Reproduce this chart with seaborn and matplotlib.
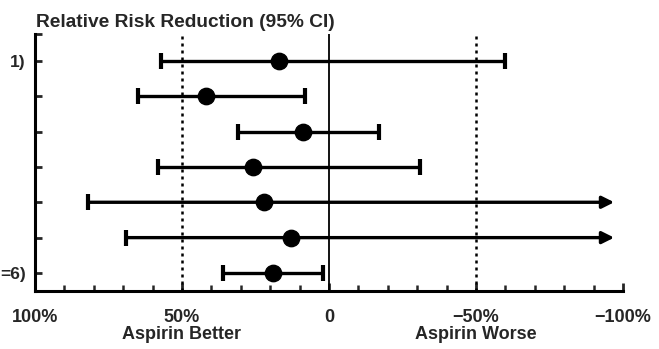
#!/usr/bin/env python3

import numpy as np
import pandas as pd
import matplotlib
matplotlib.use("Agg")
import matplotlib.pyplot as plt
import seaborn as sns

# Forest plot data: relative risk reduction (%), positive = aspirin better
row_labels = ["1)", "", "", "", "", "", "=6)"]
point = [17, 42, 9, 26, 22, 13, 19]
lower = [57, 65, 31, 58, 82, 69, 36]
# nan means the interval runs off the right edge (drawn as an arrow)
upper = [-60, 8, -17, -31, np.nan, np.nan, 2]

xticks = [100, 50, 0, -50, -100]
xticklabels = ["100%", "50%\nAspirin Better", "0",
               "\u221250%\nAspirin Worse", "\u2212100%"]
ref_lines = [50, -50]

sns.set_theme(style="ticks")
plt.rcParams["font.family"] = ["Liberation Sans", "DejaVu Sans"]
plt.rcParams["font.weight"] = "bold"


def main():
    df = pd.DataFrame({
        "row": np.arange(len(point)),
        "point": point,
        "lower": lower,
        "upper": upper,
    })

    fig = plt.figure(figsize=(6.59, 3.49), dpi=100)
    ax = fig.add_axes([35 / 659, 1 - 291 / 349, 588 / 659, 257 / 349])

    ax.set_xlim(100, -100)
    ax.set_ylim(6.51, -0.76)
    arrow_end = -97

    # reference lines
    for x in ref_lines:
        ax.axvline(x, color="black", lw=1.8, ls=(0, (1.2, 1.6)), zorder=1)
    ax.axvline(0, color="black", lw=1.3, zorder=1)

    # intervals
    for _, r in df.iterrows():
        if np.isnan(r["upper"]):
            ax.annotate("", xy=(arrow_end, r["row"]), xytext=(r["lower"], r["row"]),
                        arrowprops=dict(arrowstyle="-|>", lw=2.4, color="black",
                                        mutation_scale=18, shrinkA=0, shrinkB=0))
            ax.plot([r["lower"]], [r["row"]], marker="|", ms=11, mew=3, color="black")
        else:
            ax.plot([r["lower"], r["upper"]], [r["row"], r["row"]], color="black",
                    lw=2.4, solid_capstyle="butt")
            ax.plot([r["lower"], r["upper"]], [r["row"], r["row"]], ls="none",
                    marker="|", ms=11, mew=3, color="black")

    sns.scatterplot(data=df, x="point", y="row", ax=ax, s=140, color="black",
                    edgecolor="black", zorder=5, legend=False)

    # axes styling
    sns.despine(ax=ax)
    for side in ["left", "bottom"]:
        ax.spines[side].set_linewidth(2.2)
        ax.spines[side].set_color("black")

    ax.set_yticks([-0.76] + list(df["row"]))
    ax.set_yticklabels([""] + row_labels, fontsize=12.5, fontweight="bold")
    ax.tick_params(axis="y", direction="in", length=5, width=2, pad=6.5)

    ax.set_xticks(xticks)
    ax.set_xticklabels(xticklabels, fontsize=13, fontweight="bold",
                       linespacing=1.0)
    ax.set_xticks(np.arange(-90, 100, 10), minor=True)
    ax.tick_params(axis="x", which="major", direction="in", length=6, width=2, pad=13)
    ax.tick_params(axis="x", which="minor", direction="in", length=4, width=1.8)
    ax.set_xlabel("")
    ax.set_ylabel("")

    fig.text(36 / 659, 1 - 27 / 349, "Relative Risk Reduction (95% CI)",
             fontsize=13.8, fontweight="bold", va="baseline", ha="left")

    plt.savefig("out.png", dpi=100)


if __name__ == "__main__":
    main()
